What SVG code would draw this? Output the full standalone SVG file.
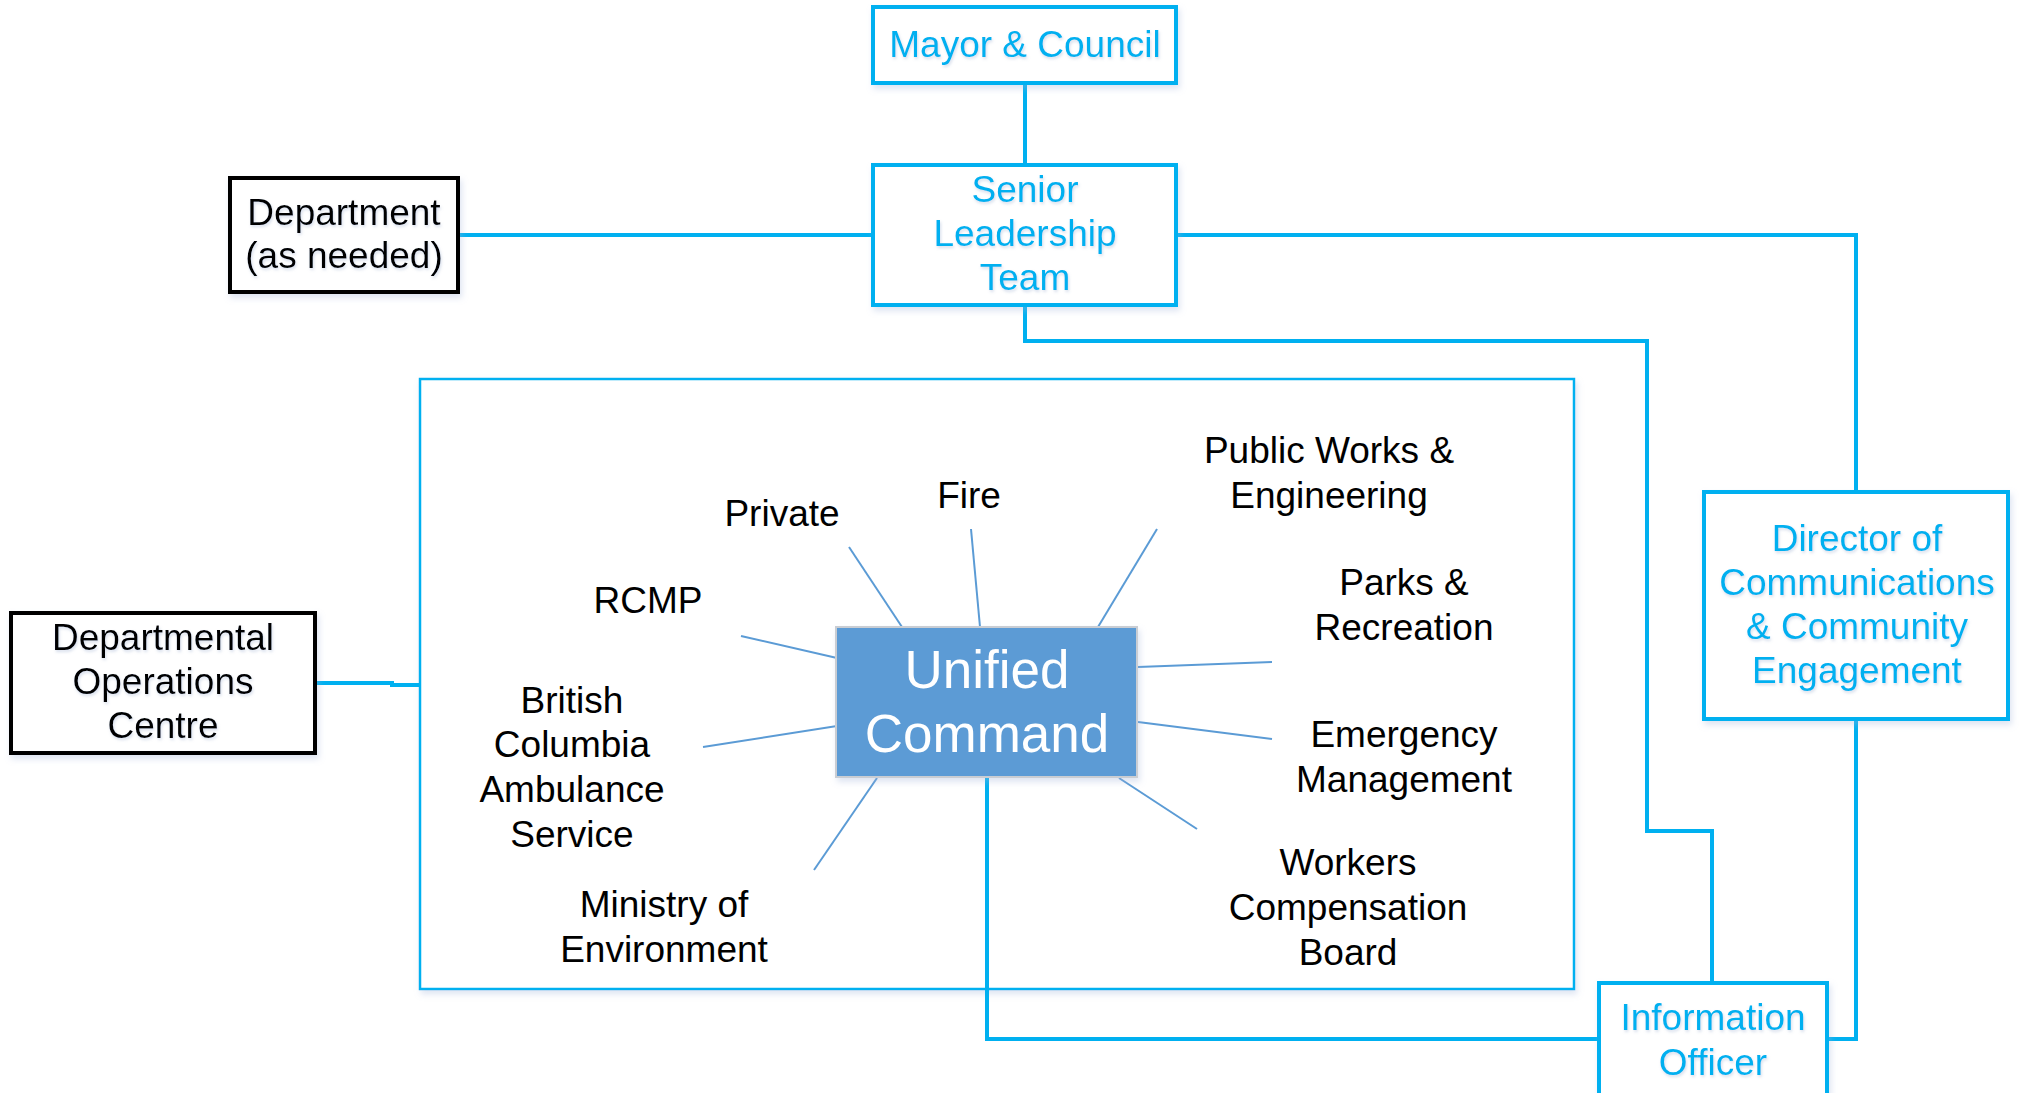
<svg xmlns="http://www.w3.org/2000/svg" width="2020" height="1093" viewBox="0 0 2020 1093">
<defs>
<filter id="sh" x="-10%" y="-10%" width="130%" height="130%">
<feDropShadow dx="2" dy="4" stdDeviation="3" flood-color="#9fb3d9" flood-opacity="0.35"/>
</filter>
<filter id="tg" x="-5%" y="-20%" width="110%" height="150%">
<feDropShadow dx="1" dy="2" stdDeviation="1.5" flood-color="#8aa0c8" flood-opacity="0.35"/>
</filter>
<style>
.bx{fill:#fff;stroke:#00B0F0;stroke-width:4;filter:url(#sh)}
.bk{fill:#fff;stroke:#000;stroke-width:4;filter:url(#sh)}
.bt{font-family:"Liberation Sans",Arial,sans-serif;font-size:37px;fill:#00B0F0;text-anchor:middle;filter:url(#tg)}
.kt{font-family:"Liberation Sans",Arial,sans-serif;font-size:37px;fill:#000;text-anchor:middle}
.kts{font-family:"Liberation Sans",Arial,sans-serif;font-size:37px;fill:#000;text-anchor:middle;filter:url(#tg)}
.cn{fill:none;stroke:#00B0F0;stroke-width:4}
.sp{fill:none;stroke:#5B9BD5;stroke-width:2}
</style>
</defs>
<rect width="2020" height="1093" fill="#fff"/>

<g id="unified-area">
<rect x="420" y="379" width="1154" height="610" fill="#fff" stroke="#00B0F0" stroke-width="2.5" filter="url(#sh)"/>
</g>

<g id="connectors">
<path class="cn" d="M1025,83 V165"/>
<path class="cn" d="M458,235 H873"/>
<path class="cn" d="M1176,235 H1856 V492"/>
<path class="cn" d="M1025,305 V341 H1647 V831 H1712 V983"/>
<path class="cn" d="M1856,719 V1039 H1827"/>
<path class="cn" d="M987,777 V1039 H1599"/>
<path class="cn" stroke-width="3" d="M315,683 H392 V685 H420"/>
<path class="sp" d="M849,547 L902,627"/>
<path class="sp" d="M971,529 L980,627"/>
<path class="sp" d="M741,636 L837,658"/>
<path class="sp" d="M1157,529 L1098,627"/>
<path class="sp" d="M1138,667 L1272,662"/>
<path class="sp" d="M1138,722 L1272,739"/>
<path class="sp" d="M1119,778 L1197,829"/>
<path class="sp" d="M703,747 L837,726"/>
<path class="sp" d="M814,870 L877,778"/>
</g>

<g id="mayor">
<rect class="bx" x="873" y="7" width="303" height="76"/>
<text class="bt" x="1025" y="57">Mayor &amp; Council</text>
</g>

<g id="slt">
<rect class="bx" x="873" y="165" width="303" height="140"/>
<text class="bt" x="1025" y="202">Senior</text>
<text class="bt" x="1025" y="246">Leadership</text>
<text class="bt" x="1025" y="290">Team</text>
</g>

<g id="department">
<rect class="bk" x="230" y="178" width="228" height="114"/>
<text class="kts" x="344" y="225">Department</text>
<text class="kts" x="344" y="268">(as needed)</text>
</g>

<g id="doc">
<rect class="bk" x="11" y="613" width="304" height="140"/>
<text class="kts" x="163" y="650">Departmental</text>
<text class="kts" x="163" y="694">Operations</text>
<text class="kts" x="163" y="738">Centre</text>
</g>

<g id="director">
<rect class="bx" x="1704" y="492" width="304" height="227"/>
<text class="bt" x="1857" y="551">Director of</text>
<text class="bt" x="1857" y="595">Communications</text>
<text class="bt" x="1857" y="639">&amp; Community</text>
<text class="bt" x="1857" y="683">Engagement</text>
</g>

<g id="info-officer">
<rect class="bx" x="1599" y="983" width="228" height="130"/>
<text class="bt" x="1713" y="1030">Information</text>
<text class="bt" x="1713" y="1075">Officer</text>
</g>

<g id="unified-command">
<rect x="836" y="627" width="301" height="150" fill="#5B9BD5" stroke="#c9cdd3" stroke-width="2" filter="url(#sh)"/>
<text x="987" y="688" font-family="Liberation Sans, Arial, sans-serif" font-size="53" fill="#fff" text-anchor="middle">Unified</text>
<text x="987" y="752" font-family="Liberation Sans, Arial, sans-serif" font-size="53" fill="#fff" text-anchor="middle">Command</text>
</g>

<g id="private"><text class="kt" x="782" y="526">Private</text></g>
<g id="fire"><text class="kt" x="969" y="508">Fire</text></g>
<g id="rcmp"><text class="kt" x="648" y="613">RCMP</text></g>
<g id="public-works">
<text class="kt" x="1329" y="463">Public Works &amp;</text>
<text class="kt" x="1329" y="508">Engineering</text>
</g>
<g id="parks">
<text class="kt" x="1404" y="595">Parks &amp;</text>
<text class="kt" x="1404" y="640">Recreation</text>
</g>
<g id="emergency">
<text class="kt" x="1404" y="747">Emergency</text>
<text class="kt" x="1404" y="792">Management</text>
</g>
<g id="wcb">
<text class="kt" x="1348" y="875">Workers</text>
<text class="kt" x="1348" y="920">Compensation</text>
<text class="kt" x="1348" y="965">Board</text>
</g>
<g id="bcas">
<text class="kt" x="572" y="713">British</text>
<text class="kt" x="572" y="757">Columbia</text>
<text class="kt" x="572" y="802">Ambulance</text>
<text class="kt" x="572" y="847">Service</text>
</g>
<g id="moe">
<text class="kt" x="664" y="917">Ministry of</text>
<text class="kt" x="664" y="962">Environment</text>
</g>
</svg>
